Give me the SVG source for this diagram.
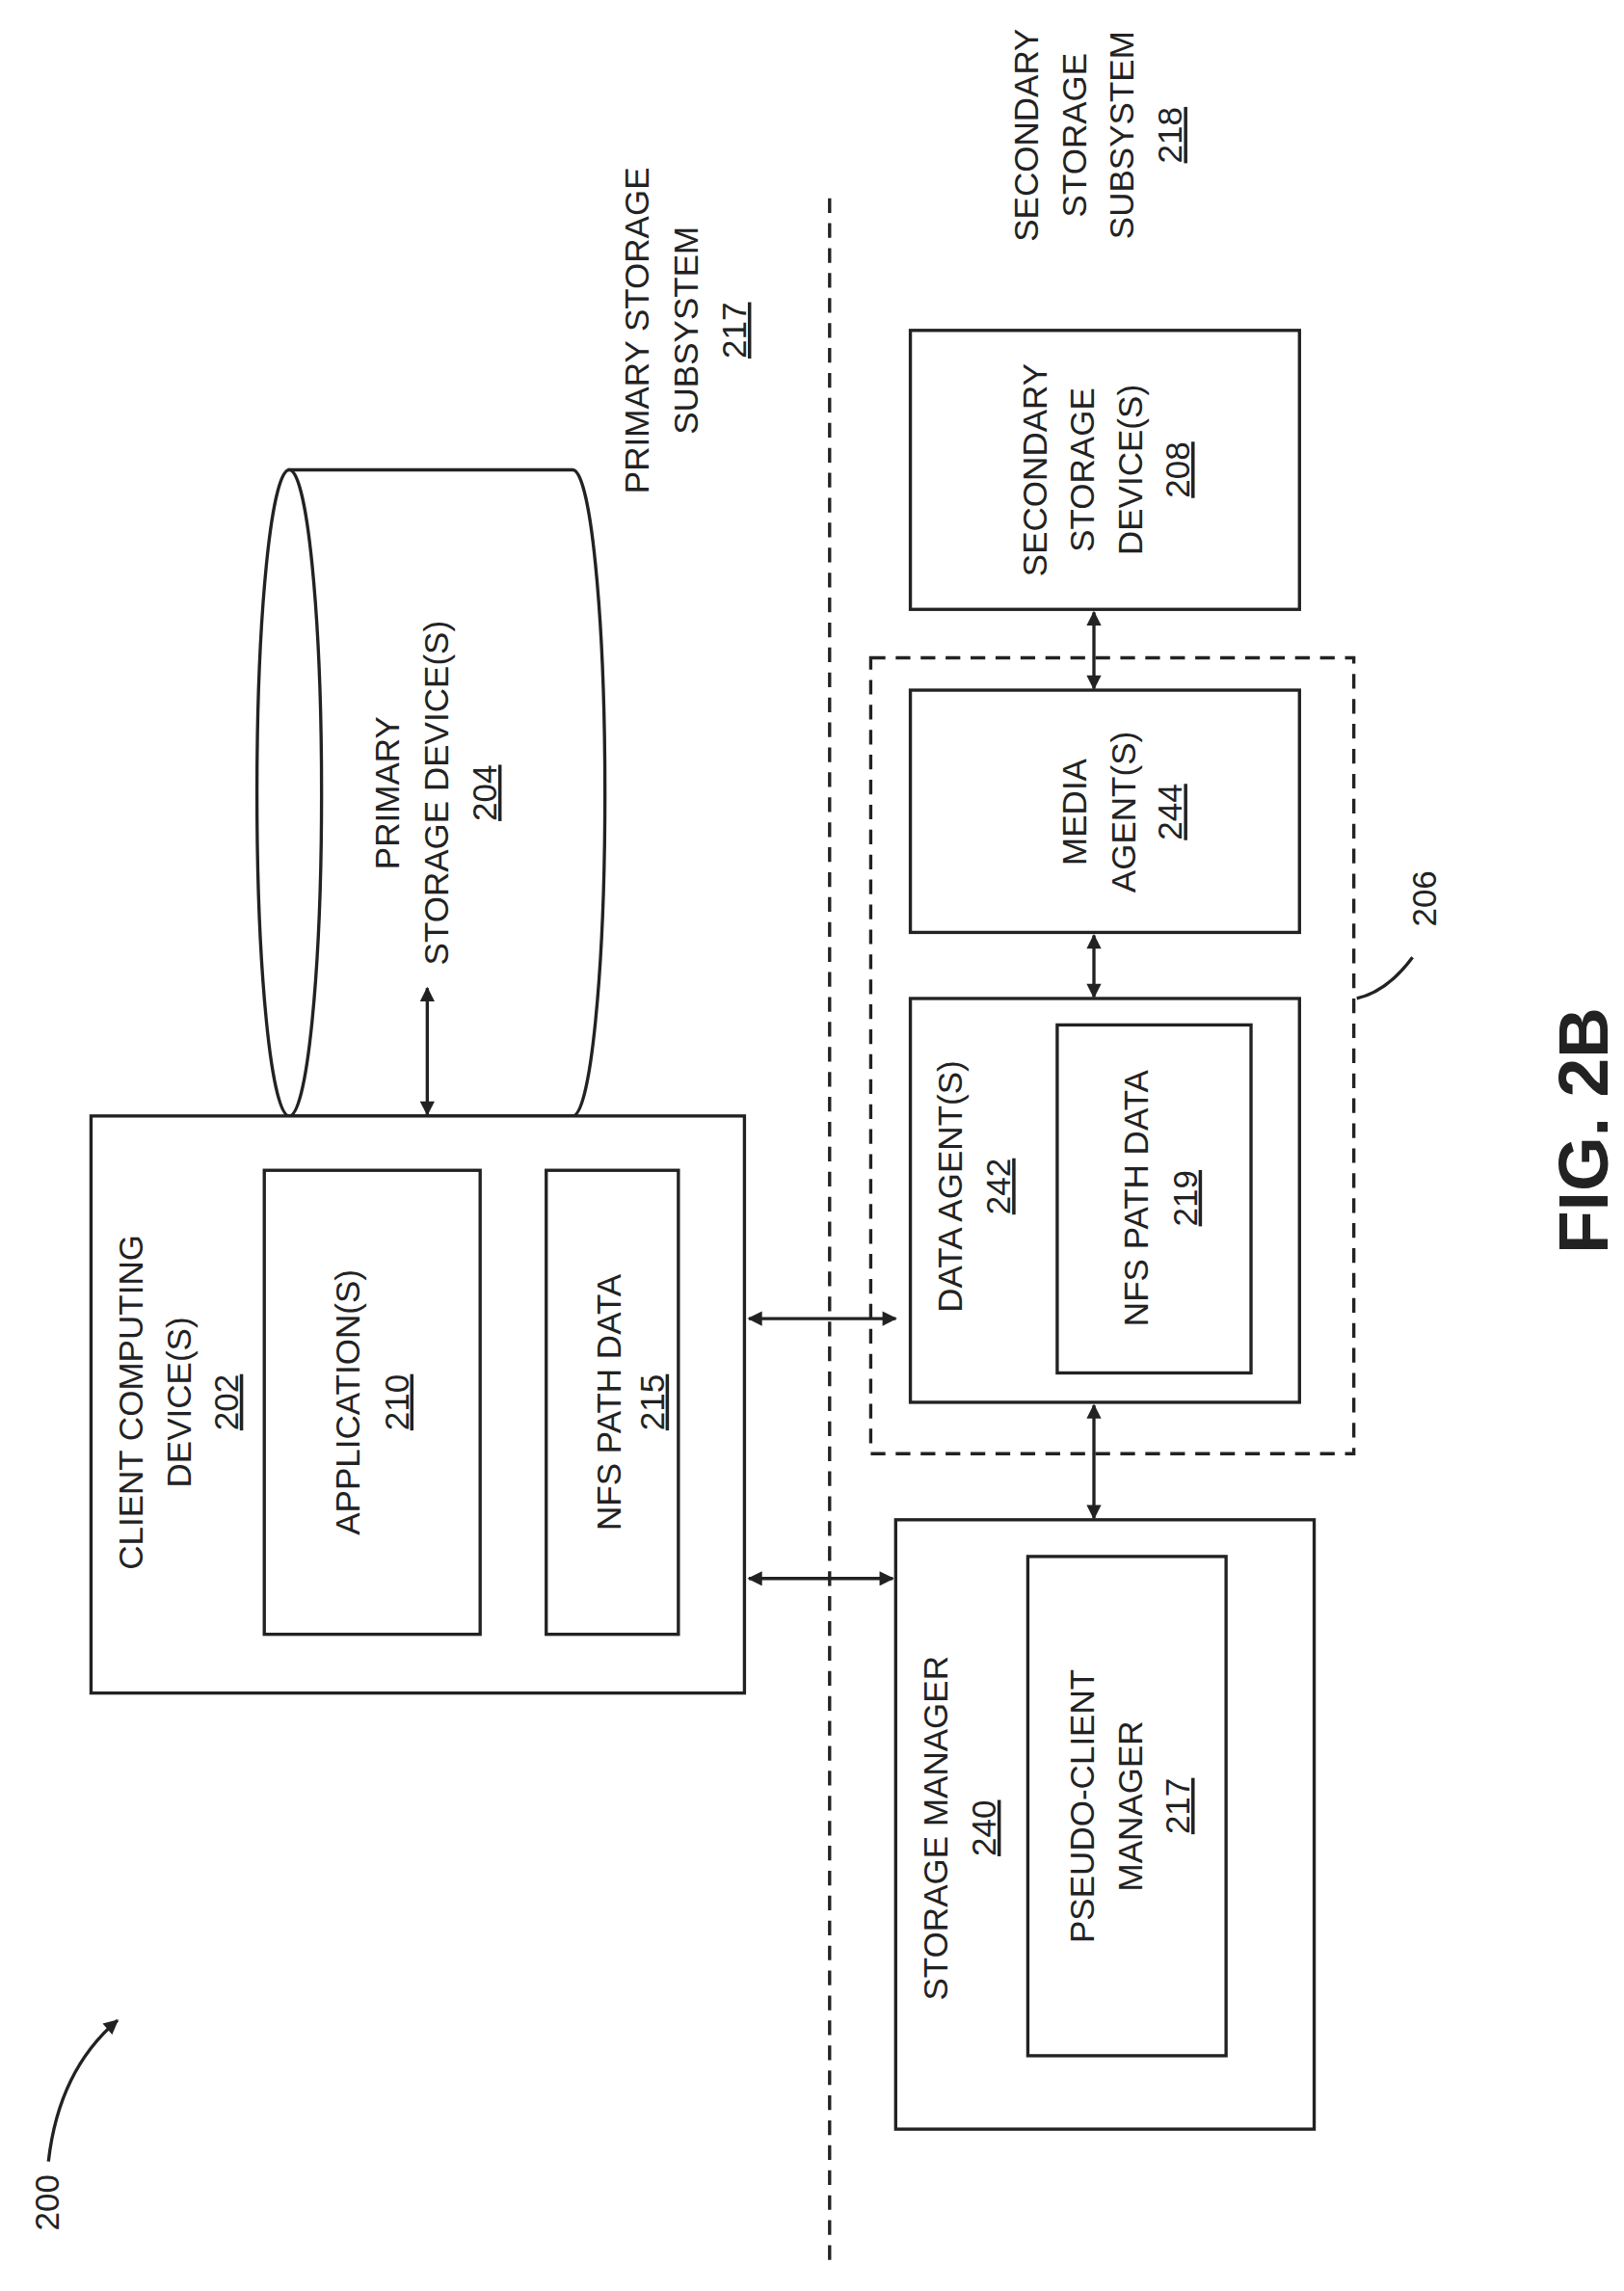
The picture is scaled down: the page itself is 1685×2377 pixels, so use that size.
<svg xmlns="http://www.w3.org/2000/svg" width="1685" height="2377" viewBox="0 0 1685 2377">
<style>
.b{fill:#fff;stroke:#222;stroke-width:2.2}
.t{font-family:"Liberation Sans",Arial,sans-serif;font-size:23px;fill:#222;text-anchor:middle}
.u{text-decoration:underline}
.c{stroke:#222;stroke-width:2.2;fill:none}
</style>
<defs>
<marker id="ah" viewBox="0 0 10 10" refX="9" refY="5" markerWidth="11" markerHeight="10" orient="auto-start-reverse" markerUnits="userSpaceOnUse"><path d="M0,0 L10,5 L0,10 z" fill="#222"/></marker>
</defs>
<rect width="1685" height="2377" fill="#fff"/>
<g transform="scale(1.5235)">
<line x1="565" y1="135" x2="565" y2="1545" class="c" stroke-dasharray="10,7"/>
<g id="primary-subsystem"><text class="t" transform="translate(442,225) rotate(-90)">PRIMARY STORAGE</text><text class="t" transform="translate(475,225) rotate(-90)">SUBSYSTEM</text><text class="t u" transform="translate(508,225) rotate(-90)">217</text></g>
<g id="secondary-subsystem"><text class="t" transform="translate(707,92) rotate(-90)">SECONDARY</text><text class="t" transform="translate(740,92) rotate(-90)">STORAGE</text><text class="t" transform="translate(772,92) rotate(-90)">SUBSYSTEM</text><text class="t u" transform="translate(805,92) rotate(-90)">218</text></g>
<g id="primary-storage">
<path class="b" d="M197,320 L390,320 A22,220 0 0 1 390,760 L197,760 Z"/>
<ellipse class="b" cx="197" cy="540" rx="22" ry="220"/>
<text class="t" transform="translate(272,540) rotate(-90)">PRIMARY</text><text class="t" transform="translate(305,540) rotate(-90)">STORAGE DEVICE(S)</text><text class="t u" transform="translate(338,540) rotate(-90)">204</text></g>
<g id="client"><rect class="b" x="62" y="760" width="445" height="393"/>
<text class="t" transform="translate(97,955) rotate(-90)">CLIENT COMPUTING</text><text class="t" transform="translate(130,955) rotate(-90)">DEVICE(S)</text><text class="t u" transform="translate(162,955) rotate(-90)">202</text></g>
<g id="app"><rect class="b" x="180" y="797" width="147" height="316"/><text class="t" transform="translate(245,955) rotate(-90)">APPLICATION(S)</text><text class="t u" transform="translate(278,955) rotate(-90)">210</text></g>
<g id="nfs215"><rect class="b" x="372" y="797" width="90" height="316"/><text class="t" transform="translate(423,955) rotate(-90)">NFS PATH DATA</text><text class="t u" transform="translate(452,955) rotate(-90)">215</text></g>
<g id="box206"><rect x="593" y="448" width="329" height="542" class="c" stroke-dasharray="10,7"/><text class="t" transform="translate(978,612) rotate(-90)">206</text></g>
<g id="secondary"><rect class="b" x="620" y="225" width="265" height="190"/><text class="t" transform="translate(713,320) rotate(-90)">SECONDARY</text><text class="t" transform="translate(745,320) rotate(-90)">STORAGE</text><text class="t" transform="translate(778,320) rotate(-90)">DEVICE(S)</text><text class="t u" transform="translate(810,320) rotate(-90)">208</text></g>
<g id="media"><rect class="b" x="620" y="470" width="265" height="165"/><text class="t" transform="translate(740,553) rotate(-90)">MEDIA</text><text class="t" transform="translate(773,553) rotate(-90)">AGENT(S)</text><text class="t u" transform="translate(805,553) rotate(-90)">244</text></g>
<g id="data"><rect class="b" x="620" y="680" width="265" height="275"/><text class="t" transform="translate(655,808) rotate(-90)">DATA AGENT(S)</text><text class="t u" transform="translate(688,808) rotate(-90)">242</text></g>
<g id="nfs219"><rect class="b" x="720" y="698" width="132" height="237"/><text class="t" transform="translate(782,816) rotate(-90)">NFS PATH DATA</text><text class="t u" transform="translate(815,816) rotate(-90)">219</text></g>
<g id="sm"><rect class="b" x="610" y="1035" width="285" height="415"/><text class="t" transform="translate(645,1245) rotate(-90)">STORAGE MANAGER</text><text class="t u" transform="translate(678,1245) rotate(-90)">240</text></g>
<g id="pcm"><rect class="b" x="700" y="1060" width="135" height="340"/><text class="t" transform="translate(745,1230) rotate(-90)">PSEUDO-CLIENT</text><text class="t" transform="translate(778,1230) rotate(-90)">MANAGER</text><text class="t u" transform="translate(810,1230) rotate(-90)">217</text></g>
<g id="connectors">
<line class="c" x1="291" y1="673" x2="291" y2="759" marker-start="url(#ah)" marker-end="url(#ah)"/>
<line class="c" x1="510" y1="898" x2="610" y2="898" marker-start="url(#ah)" marker-end="url(#ah)"/>
<line class="c" x1="510" y1="1075" x2="608" y2="1075" marker-start="url(#ah)" marker-end="url(#ah)"/>
<line class="c" x1="745" y1="957" x2="745" y2="1034" marker-start="url(#ah)" marker-end="url(#ah)"/>
<line class="c" x1="745" y1="637" x2="745" y2="679" marker-start="url(#ah)" marker-end="url(#ah)"/>
<line class="c" x1="745" y1="417" x2="745" y2="469" marker-start="url(#ah)" marker-end="url(#ah)"/>
<path class="c" d="M924,680 Q945,675 962,652"/>
<path class="c" d="M33,1472 Q40,1410 80,1376" marker-end="url(#ah)"/>
</g>
<text class="t" transform="translate(40,1500) rotate(-90)">200</text>
<text class="t" style="font-size:48px;font-weight:bold" transform="translate(1095,770) rotate(-90)">FIG. 2B</text>
</g>
</svg>
